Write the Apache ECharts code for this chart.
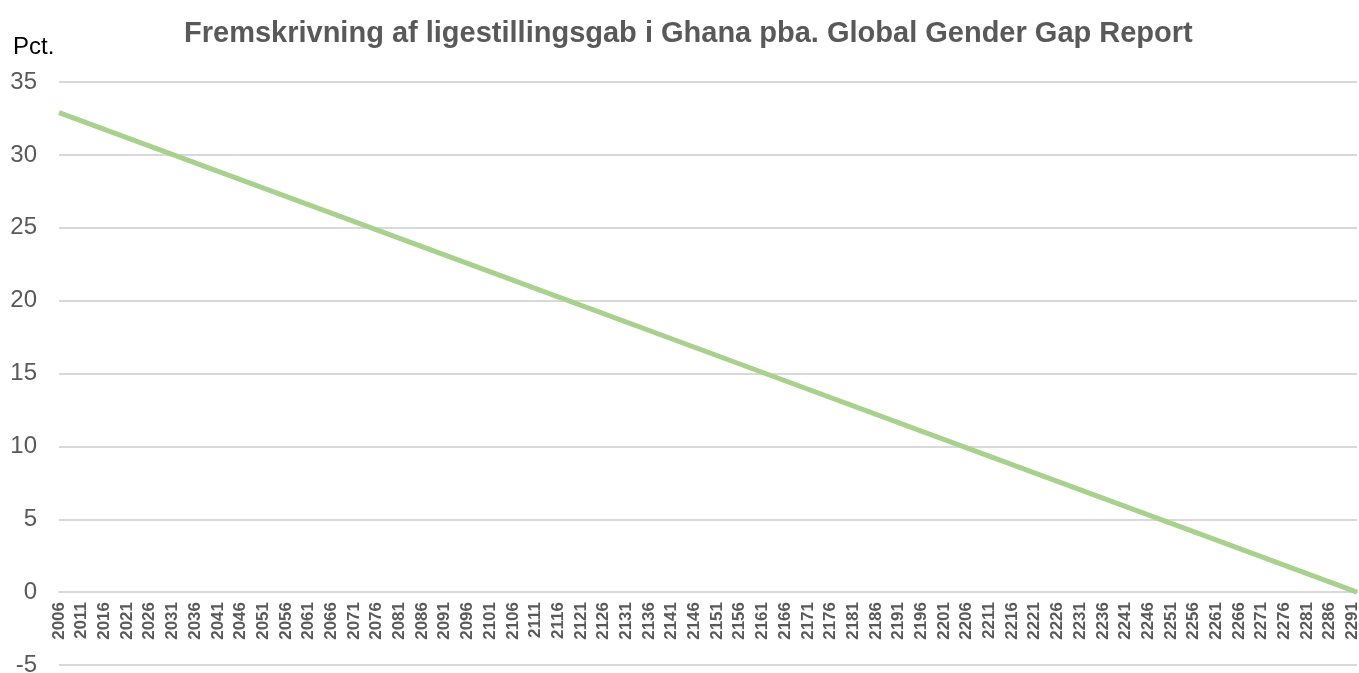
<!DOCTYPE html>
<html>
<head>
<meta charset="utf-8">
<script src="https://cdn.jsdelivr.net/npm/echarts@6/dist/echarts.min.js"></script>
<style>
  html, body { margin: 0; padding: 0; background: #fff; }
  #chart { width: 1359px; height: 673px; }
</style>
</head>
<body>
<div id="chart"></div>
<script>
// år på x-aksen (2006 - 2292)
var years = [];
for (var y = 2006; y <= 2292; y++) years.push(String(y));

// aflæste punkter på fremskrivningen (pct.)
var pointYears = ['2006', '2056', '2106', '2156', '2206', '2256', '2292'];
var gapValues = [32.9, 27.15, 21.4, 15.65, 9.9, 4.15, 0];

var chart = echarts.init(document.getElementById('chart'));

var option = {
  animation: false,
  textStyle: { fontFamily: 'Liberation Sans, Arial, sans-serif' },
  title: {
    text: 'Fremskrivning af ligestillingsgab i Ghana pba. Global Gender Gap Report',
    left: 184,
    top: 19,
    padding: 0,
    textStyle: { fontSize: 29, fontWeight: 'bold', color: '#595959' }
  },
  // y-aksens enhed
  graphic: [{
    type: 'text',
    left: 13,
    top: 35,
    style: { text: 'Pct.', fontSize: 24, fill: '#000', fontFamily: 'Liberation Sans, Arial, sans-serif' }
  }],
  grid: { left: 59, right: 2, top: 82, bottom: 8, containLabel: false, outerBoundsMode: 'none' },
  xAxis: {
    type: 'category',
    data: years,
    boundaryGap: false,
    // aksen ligger ved 0 (73 px over bunden af plotområdet)
    position: 'bottom',
    offset: -73,
    axisLine: { show: true, onZero: false, lineStyle: { color: '#d9d9d9', width: 2 } },
    axisTick: { show: false },
    axisLabel: {
      interval: 4,
      rotate: 90,
      fontSize: 17,
      fontWeight: 'bold',
      color: '#595959',
      margin: 10
    },
    splitLine: { show: false }
  },
  yAxis: {
    type: 'value',
    min: -5,
    max: 35,
    interval: 5,
    axisLine: { show: false },
    axisTick: { show: false },
    axisLabel: { fontSize: 24, color: '#595959', margin: 22 },
    splitLine: { lineStyle: { color: '#d9d9d9', width: 2 } }
  },
  series: [{
    name: 'Ligestillingsgab',
    type: 'line',
    data: pointYears.map(function (yr, i) { return [yr, gapValues[i]]; }),
    symbol: 'none',
    lineStyle: { color: '#a9d18e', width: 5 }
  }]
};

chart.setOption(option);
</script>
</body>
</html>
